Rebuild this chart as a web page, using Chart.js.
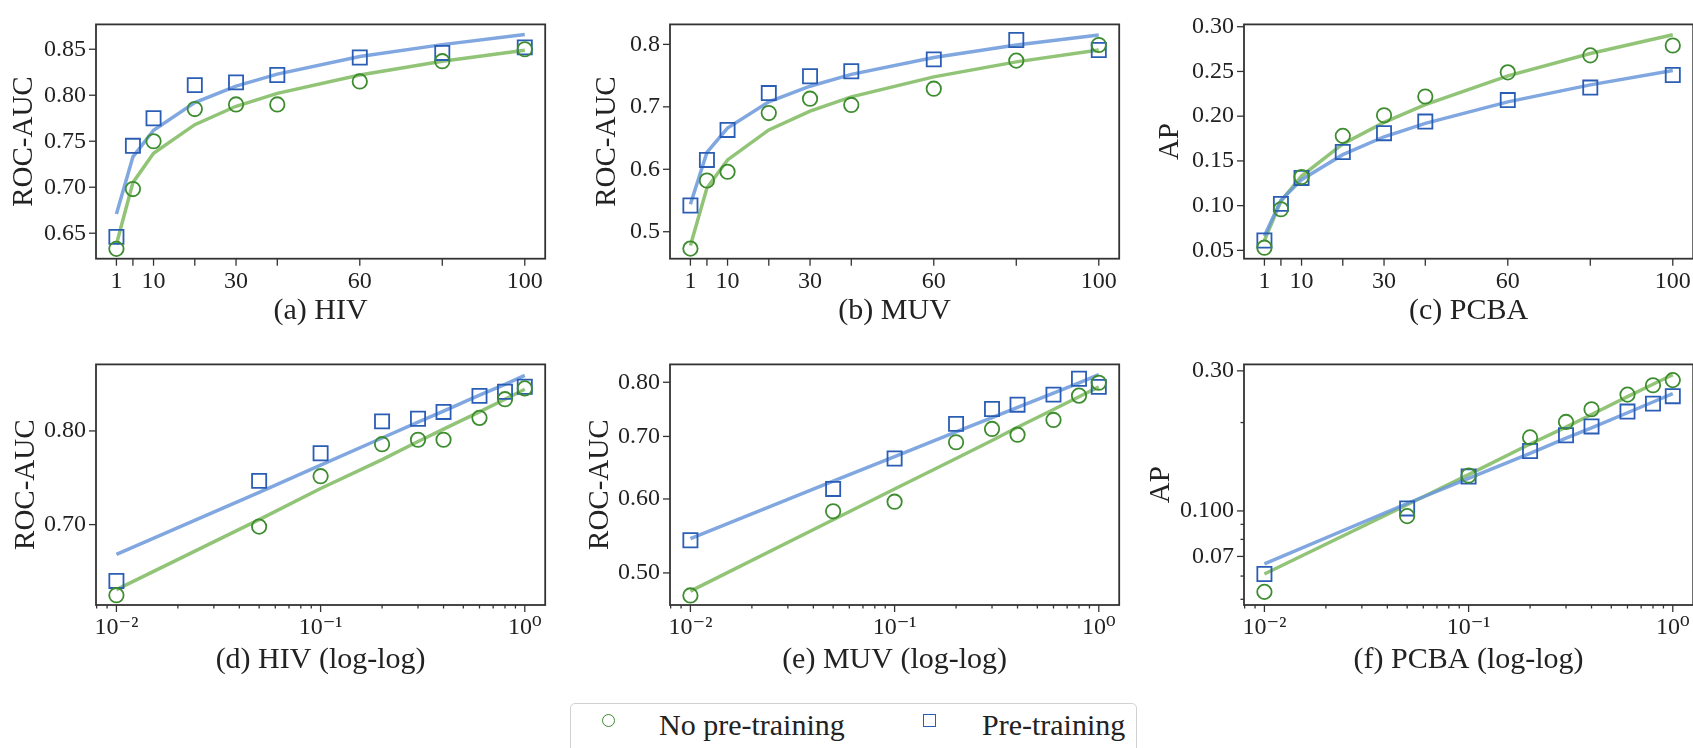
<!DOCTYPE html>
<html>
<head>
<meta charset="utf-8">
<script src="https://cdn.jsdelivr.net/npm/chart.js@4.4.1/dist/chart.umd.min.js"></script>
<style>
  html, body { margin: 0; padding: 0; background: #fff; }
  body { width: 1693px; height: 748px; overflow: hidden; position: relative;
         font-family: "Liberation Serif", "DejaVu Serif", serif; color: #222; }
  canvas { position: absolute; }
  #legend { position: absolute; left: 570px; top: 703px; width: 567px; height: 70px;
            border: 1.5px solid #d2d2d2; border-radius: 5px; box-sizing: border-box; }
  .mark { position: absolute; box-sizing: border-box; }
  .ltext { position: absolute; font-size: 30px; line-height: 36px; height: 36px; white-space: nowrap; }
</style>
</head>
<body>
<canvas id="hiv"></canvas>
<canvas id="muv"></canvas>
<canvas id="pcba"></canvas>
<canvas id="hivLog"></canvas>
<canvas id="muvLog"></canvas>
<canvas id="pcbaLog"></canvas>

<div id="legend"></div>
<div class="mark" style="left:602px; top:714px; width:13px; height:13px; border:1.7px solid #3d8c2f; border-radius:50%"></div>
<div class="ltext" style="left:659px; top:707px">No pre-training</div>
<div class="mark" style="left:923px; top:714px; width:13px; height:13px; border:1.7px solid #2a5db4"></div>
<div class="ltext" style="left:982px; top:707px">Pre-training</div>

<script>
// training set size in %, and the same as a fraction for the log-log panels
const pctX = [1, 5, 10, 20, 30, 40, 60, 80, 100];
const fracX = [0.01, 0.05, 0.1, 0.2, 0.3, 0.4, 0.6, 0.8, 1.0];

// HIV (ROC-AUC)
const hivNoPre  = [0.633, 0.698, 0.750, 0.785, 0.790, 0.790, 0.815, 0.837, 0.850];
const hivPre    = [0.646, 0.745, 0.775, 0.811, 0.814, 0.822, 0.841, 0.846, 0.852];
const hivFitNo  = [0.638, 0.705, 0.737, 0.768, 0.788, 0.802, 0.822, 0.837, 0.849];
const hivFitPre = [0.671, 0.733, 0.762, 0.792, 0.810, 0.823, 0.842, 0.855, 0.866];

// MUV (ROC-AUC)
const muvNoPre  = [0.473, 0.582, 0.596, 0.690, 0.713, 0.703, 0.729, 0.774, 0.799];
const muvPre    = [0.542, 0.615, 0.663, 0.722, 0.749, 0.757, 0.776, 0.807, 0.791];
const muvFitNo  = [0.478, 0.570, 0.615, 0.663, 0.693, 0.716, 0.748, 0.772, 0.791];
const muvFitPre = [0.544, 0.627, 0.666, 0.708, 0.733, 0.752, 0.779, 0.799, 0.815];

// PCBA (AP)
const pcbaNoPre  = [0.053, 0.096, 0.132, 0.178, 0.201, 0.222, 0.249, 0.268, 0.279];
const pcbaPre    = [0.061, 0.102, 0.131, 0.160, 0.181, 0.194, 0.218, 0.232, 0.246];
const pcbaFitNo  = [0.061, 0.105, 0.133, 0.169, 0.193, 0.213, 0.245, 0.270, 0.291];
const pcbaFitPre = [0.066, 0.106, 0.129, 0.157, 0.177, 0.192, 0.216, 0.235, 0.251];

// tick values / labels
const pctTicks = [1, 5, 10, 20, 30, 40, 60, 80, 100];
const pctTickLabels = ['1', '', '10', '', '30', '', '60', '', '100'];
const logMajorTicks = [0.01, 0.1, 1];
const logMajorLabels = ['10\u207B\u00B2', '10\u207B\u00B9', '10\u2070'];
const logMinorTicks = [0.008, 0.009, 0.02, 0.03, 0.04, 0.05, 0.06, 0.07, 0.08, 0.09,
                       0.2, 0.3, 0.4, 0.5, 0.6, 0.7, 0.8, 0.9];

const hivTicks = [0.65, 0.70, 0.75, 0.80, 0.85];
const hivTickLabels = ['0.65', '0.70', '0.75', '0.80', '0.85'];
const muvTicks = [0.5, 0.6, 0.7, 0.8];
const muvTickLabels = ['0.5', '0.6', '0.7', '0.8'];
const pcbaTicks = [0.05, 0.10, 0.15, 0.20, 0.25, 0.30];
const pcbaTickLabels = ['0.05', '0.10', '0.15', '0.20', '0.25', '0.30'];
const hivLogTicks = [0.70, 0.80];
const hivLogTickLabels = ['0.70', '0.80'];
const muvLogTicks = [0.50, 0.60, 0.70, 0.80];
const muvLogTickLabels = ['0.50', '0.60', '0.70', '0.80'];
const pcbaLogTicks = [0.05, 0.06, 0.07, 0.08, 0.09, 0.1, 0.2, 0.3];
const pcbaLogTickLabels = ['', '', '0.07', '', '', '0.100', '', '0.30'];

const FONT = '"Liberation Serif", "DejaVu Serif", serif';
const GREEN = '#3d8c2f', BLUE = '#2a5db4';
const GREEN_FIT = 'rgba(126, 186, 94, 0.85)', BLUE_FIT = 'rgba(106, 152, 218, 0.85)';

const rows = [{top: 0, height: 329}, {top: 340, height: 338}];

const panels = [
  {id: 'hiv', row: 0, plotLeft: 96, plotTop: 13.3, plotBottom: 258.7, log: false,
   yMin: 0.6223, yMax: 0.877, yTicks: hivTicks, yLabels: hivTickLabels, yTitle: 'ROC-AUC', titlePad: 11,
   caption: '(a) HIV', no: hivNoPre, pre: hivPre, fitNo: hivFitNo, fitPre: hivFitPre},
  {id: 'muv', row: 0, plotLeft: 670, plotTop: 13.3, plotBottom: 258.7, log: false,
   yMin: 0.4568, yMax: 0.832, yTicks: muvTicks, yLabels: muvTickLabels, yTitle: 'ROC-AUC', titlePad: 20,
   caption: '(b) MUV', no: muvNoPre, pre: muvPre, fitNo: muvFitNo, fitPre: muvFitPre},
  {id: 'pcba', row: 0, plotLeft: 1244, plotTop: 13.3, plotBottom: 258.7, log: false,
   yMin: 0.0407, yMax: 0.3026, yTicks: pcbaTicks, yLabels: pcbaTickLabels, yTitle: 'AP', titlePad: 9,
   caption: '(c) PCBA', no: pcbaNoPre, pre: pcbaPre, fitNo: pcbaFitNo, fitPre: pcbaFitPre},
  {id: 'hivLog', row: 1, plotLeft: 96, plotTop: 357.7, plotBottom: 605, log: true,
   yMin: 0.6242, yMax: 0.8796, yTicks: hivLogTicks, yLabels: hivLogTickLabels, yTitle: 'ROC-AUC', titlePad: 13,
   caption: '(d) HIV (log-log)', no: hivNoPre, pre: hivPre, fitNo: hivFitNo, fitPre: hivFitPre},
  {id: 'muvLog', row: 1, plotLeft: 670, plotTop: 357.7, plotBottom: 605, log: true,
   yMin: 0.4620, yMax: 0.8360, yTicks: muvLogTicks, yLabels: muvLogTickLabels, yTitle: 'ROC-AUC', titlePad: 13,
   caption: '(e) MUV (log-log)', no: muvNoPre, pre: muvPre, fitNo: muvFitNo, fitPre: muvFitPre},
  {id: 'pcbaLog', row: 1, plotLeft: 1244, plotTop: 357.7, plotBottom: 605, log: true,
   yMin: 0.04782, yMax: 0.3156, yTicks: pcbaLogTicks, yLabels: pcbaLogTickLabels, yTitle: 'AP', titlePad: 0,
   caption: '(f) PCBA (log-log)', no: pcbaNoPre, pre: pcbaPre, fitNo: pcbaFitNo, fitPre: pcbaFitPre}
];

// box around the plot area plus outward tick marks
const framePlugin = {
  id: 'frame',
  afterDraw(chart, args, opts) {
    const {ctx, chartArea: a, scales: {x, y}} = chart;
    ctx.save();
    ctx.strokeStyle = '#333';
    ctx.lineWidth = 1.3;
    const tick = (x1, y1, x2, y2) => { ctx.beginPath(); ctx.moveTo(x1, y1); ctx.lineTo(x2, y2); ctx.stroke(); };
    opts.xMajor.forEach(v => { const p = x.getPixelForValue(v); tick(p, a.bottom, p, a.bottom + 7); });
    opts.xMinor.forEach(v => { const p = x.getPixelForValue(v); tick(p, a.bottom, p, a.bottom + 3.5); });
    opts.yTicks.forEach((v, i) => {
      const p = y.getPixelForValue(v);
      tick(a.left, p, a.left - (opts.yLabels[i] ? 7 : 3.5), p);
    });
    ctx.lineWidth = 1.8;
    ctx.strokeRect(a.left, a.top, a.right - a.left, a.bottom - a.top);
    ctx.restore();
  }
};

function pts(xs, ys) { return xs.map((x, i) => ({x: x, y: ys[i]})); }

panels.forEach(p => {
  const row = rows[p.row];
  const canvas = document.getElementById(p.id);
  canvas.width = 561;
  canvas.height = row.height;
  canvas.style.left = (p.plotLeft - 100) + 'px';
  canvas.style.top = row.top + 'px';

  const xs = p.log ? fracX : pctX;
  const xTickVals = p.log ? logMajorTicks : pctTicks;
  const xTickText = p.log ? logMajorLabels : pctTickLabels;

  new Chart(canvas, {
    type: 'scatter',
    data: {
      datasets: [
        {data: pts(xs, p.fitNo), showLine: true, pointRadius: 0, borderColor: GREEN_FIT, borderWidth: 3.5, order: 3},
        {data: pts(xs, p.fitPre), showLine: true, pointRadius: 0, borderColor: BLUE_FIT, borderWidth: 3.5, order: 2},
        {data: pts(xs, p.pre), showLine: false, pointStyle: 'rect', pointRadius: 10, borderColor: BLUE,
         backgroundColor: 'rgba(0,0,0,0)', borderWidth: 1.8, clip: false, order: 1},
        {data: pts(xs, p.no), showLine: false, pointStyle: 'circle', pointRadius: 7.2, borderColor: GREEN,
         backgroundColor: 'rgba(0,0,0,0)', borderWidth: 1.8, clip: false, order: 0}
      ]
    },
    options: {
      responsive: false,
      animation: false,
      devicePixelRatio: 1,
      events: [],
      layout: {padding: {top: p.plotTop - row.top, right: 10, left: 0, bottom: 0}},
      plugins: {
        legend: {display: false},
        tooltip: {enabled: false},
        frame: {
          xMajor: p.log ? logMajorTicks : pctTicks,
          xMinor: p.log ? logMinorTicks : [],
          yTicks: p.yTicks, yLabels: p.yLabels
        }
      },
      scales: {
        x: {
          type: p.log ? 'logarithmic' : 'linear',
          min: p.log ? 0.0079433 : -3.95,
          max: p.log ? 1.2589 : 104.95,
          bounds: 'data',
          grid: {display: false, drawTicks: false},
          border: {display: false},
          afterBuildTicks: s => { s.ticks = xTickVals.map(v => ({value: v})); },
          afterFit: s => { s.height = row.top + row.height - p.plotBottom; },
          ticks: {autoSkip: false, maxRotation: 0, padding: p.log ? 8 : 9, color: '#222',
                  font: {family: FONT, size: 24}, callback: (v, i) => xTickText[i]},
          title: {display: true, text: p.caption, color: '#222', font: {family: FONT, size: 30},
                  padding: {top: 0, bottom: 0}}
        },
        y: {
          type: p.log ? 'logarithmic' : 'linear',
          min: p.yMin,
          max: p.yMax,
          bounds: 'data',
          grid: {display: false, drawTicks: false},
          border: {display: false},
          afterBuildTicks: s => { s.ticks = p.yTicks.map(v => ({value: v})); },
          afterFit: s => { s.width = 100; },
          ticks: {autoSkip: false, padding: 10, color: '#222',
                  font: {family: FONT, size: 24}, callback: (v, i) => p.yLabels[i]},
          title: {display: true, text: p.yTitle, color: '#222', font: {family: FONT, size: 29},
                  padding: {top: p.titlePad, bottom: 0}}
        }
      }
    },
    plugins: [framePlugin]
  });
});
</script>
</body>
</html>
